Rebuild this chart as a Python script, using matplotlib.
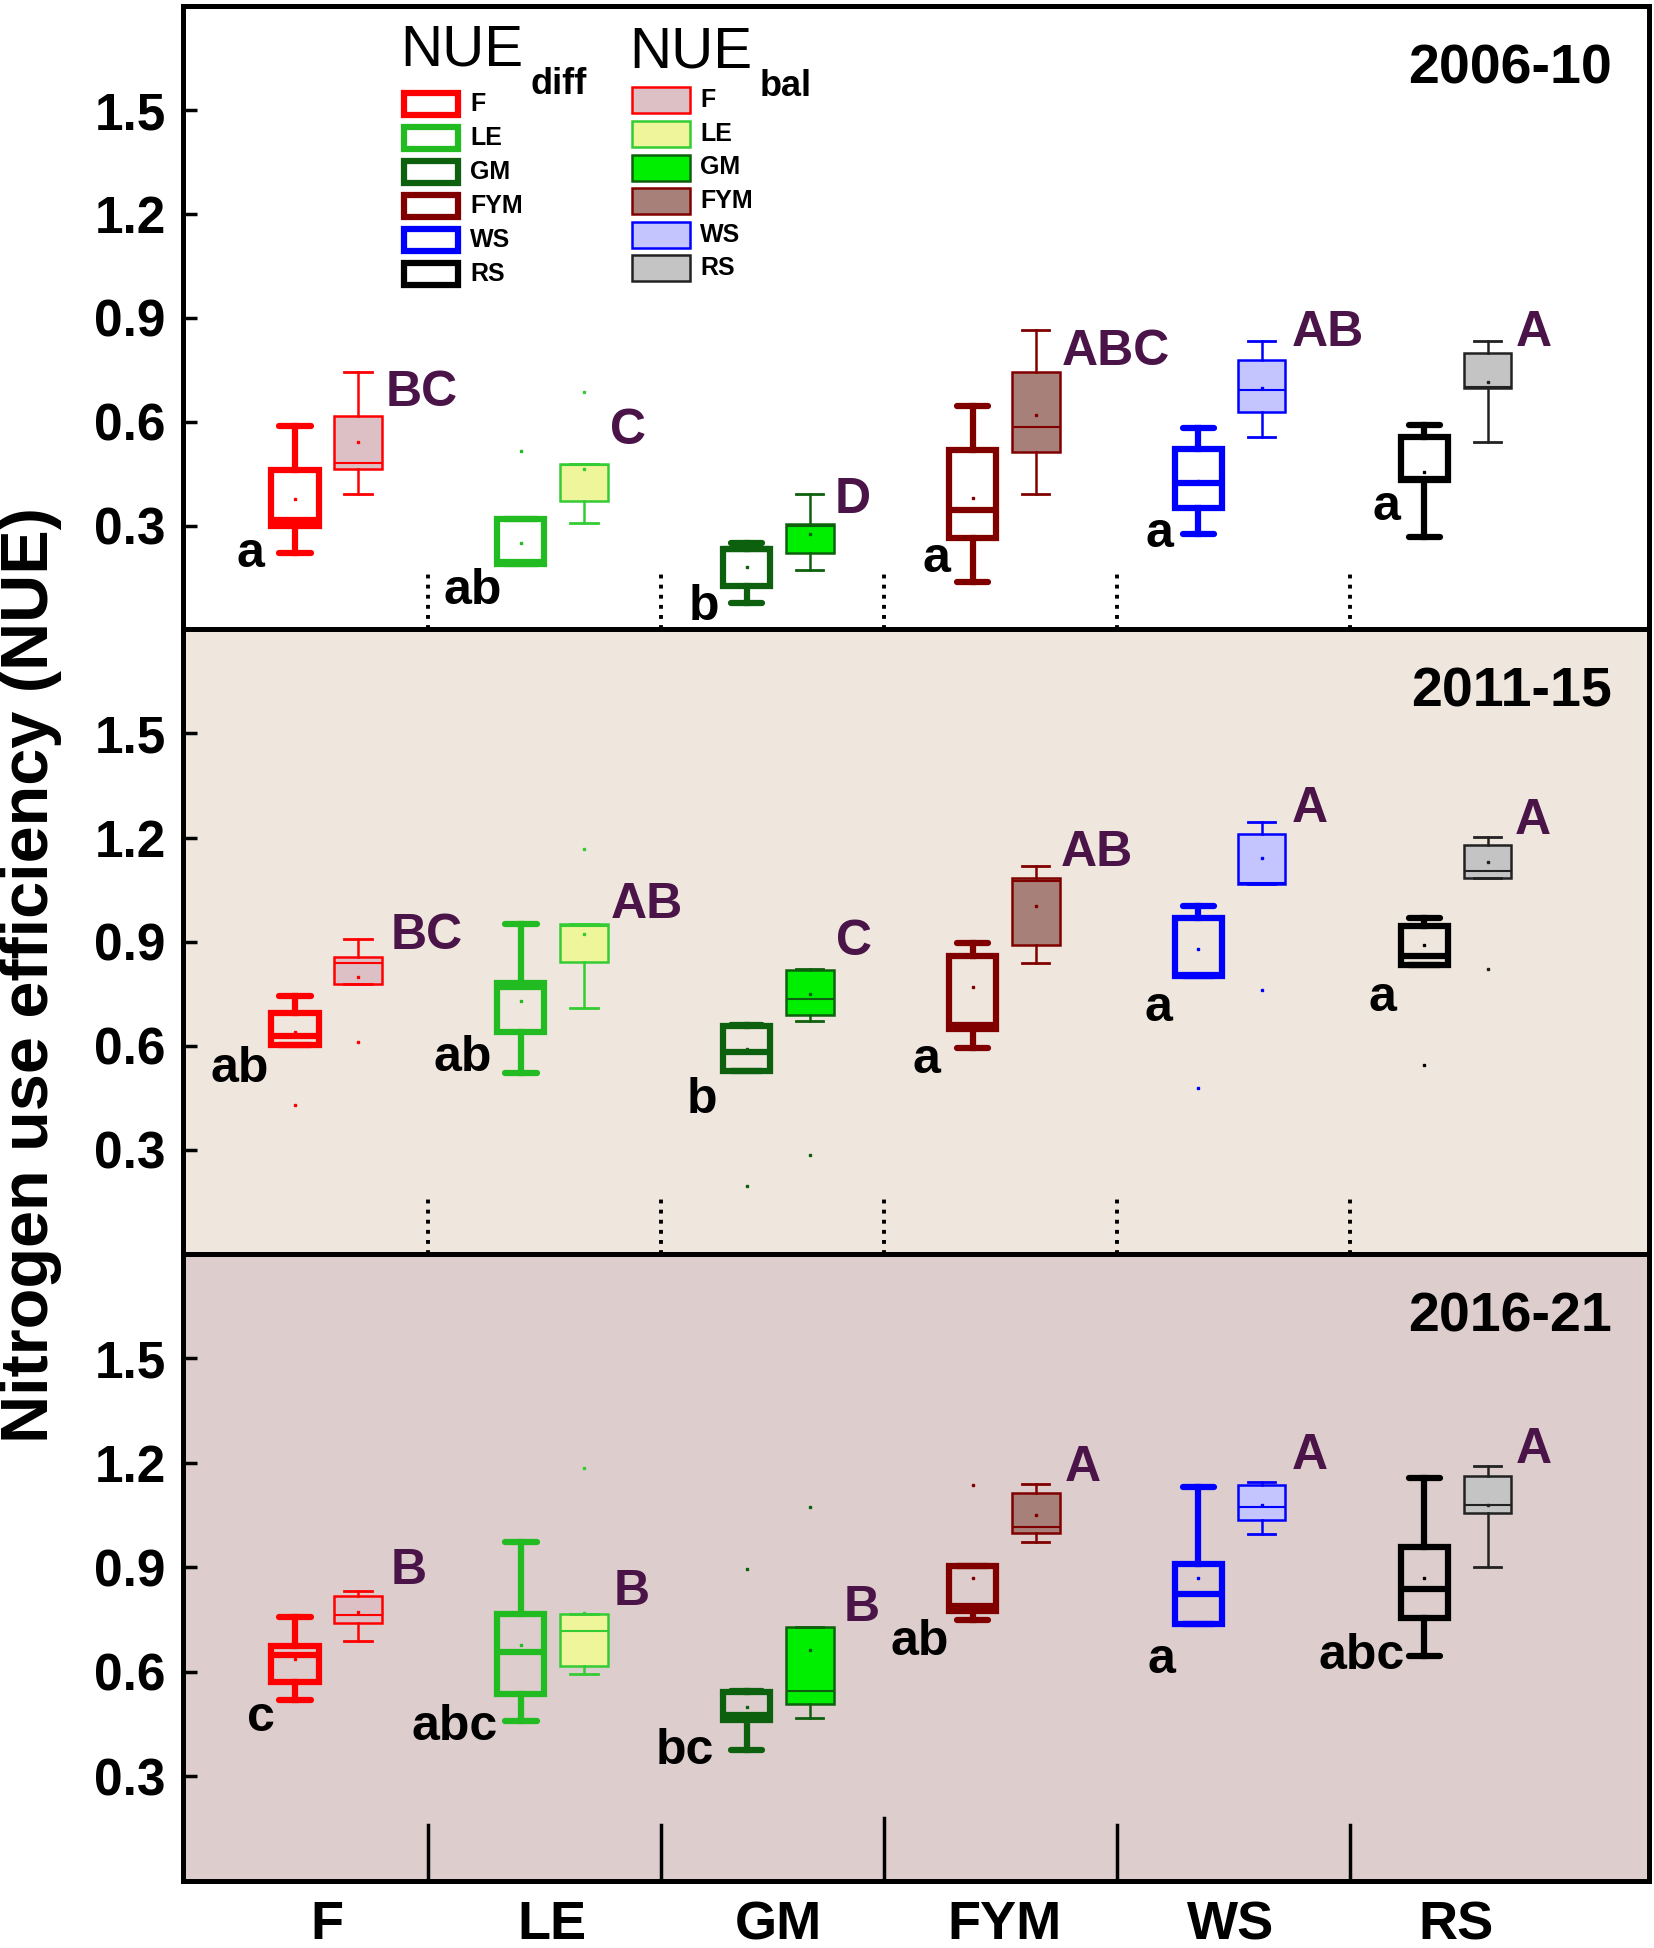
import matplotlib
matplotlib.use("Agg")
import matplotlib.pyplot as plt
from matplotlib.patches import Rectangle

plt.rcParams['font.family'] = ['Liberation Sans', 'DejaVu Sans']

# ---------------- data ----------------
categories = ['F', 'LE', 'GM', 'FYM', 'WS', 'RS']
periods = ['2006-10', '2011-15', '2016-21']

# each: [whislo, q1, med, q3, whishi, mean]
diff_stats = [
    [[0.222, 0.298, 0.315, 0.460, 0.588, 0.377],
     [0.189, 0.189, 0.195, 0.319, 0.319, 0.250],
     [0.077, 0.126, 0.232, 0.232, 0.250, 0.179],
     [0.137, 0.265, 0.344, 0.517, 0.645, 0.379],
     [0.275, 0.352, 0.423, 0.522, 0.582, 0.430],
     [0.267, 0.432, 0.435, 0.557, 0.589, 0.454]],
    [[0.603, 0.603, 0.627, 0.694, 0.742, 0.640],
     [0.521, 0.641, 0.770, 0.780, 0.950, 0.730],
     [0.526, 0.526, 0.581, 0.656, 0.660, 0.590],
     [0.593, 0.648, 0.660, 0.858, 0.896, 0.768],
     [0.800, 0.800, 0.805, 0.968, 1.002, 0.880],
     [0.834, 0.834, 0.858, 0.944, 0.968, 0.890]],
    [[0.520, 0.571, 0.649, 0.673, 0.757, 0.636],
     [0.459, 0.537, 0.657, 0.765, 0.974, 0.678],
     [0.377, 0.461, 0.475, 0.542, 0.545, 0.500],
     [0.749, 0.776, 0.790, 0.905, 0.905, 0.871],
     [0.738, 0.738, 0.824, 0.910, 1.132, 0.871],
     [0.647, 0.754, 0.838, 0.959, 1.158, 0.871]],
]
diff_fliers = [
    [[], [0.516], [], [], [], []],
    [[0.430], [], [0.195], [], [0.478], [0.545]],
    [[], [], [0.895], [1.137], [], []],
]
bal_stats = [
    [[0.392, 0.462, 0.482, 0.616, 0.743, 0.540],
     [0.308, 0.370, 0.475, 0.479, 0.479, 0.463],
     [0.172, 0.220, 0.298, 0.305, 0.390, 0.276],
     [0.392, 0.512, 0.586, 0.743, 0.866, 0.620],
     [0.555, 0.628, 0.692, 0.777, 0.834, 0.698],
     [0.541, 0.698, 0.700, 0.799, 0.832, 0.714]],
    [[0.777, 0.777, 0.838, 0.857, 0.907, 0.797],
     [0.710, 0.840, 0.945, 0.951, 0.951, 0.922],
     [0.670, 0.689, 0.735, 0.817, 0.820, 0.750],
     [0.838, 0.891, 1.075, 1.084, 1.119, 1.002],
     [1.065, 1.065, 1.070, 1.211, 1.245, 1.140],
     [1.084, 1.084, 1.103, 1.180, 1.202, 1.130]],
    [[0.688, 0.740, 0.762, 0.817, 0.833, 0.771],
     [0.595, 0.616, 0.717, 0.766, 0.766, 0.770],
     [0.469, 0.509, 0.545, 0.730, 0.730, 0.664],
     [0.972, 1.000, 1.015, 1.115, 1.140, 1.050],
     [0.995, 1.035, 1.072, 1.137, 1.146, 1.078],
     [0.900, 1.057, 1.078, 1.162, 1.190, 1.078]],
]
bal_fliers = [
    [[], [0.685], [], [], [], []],
    [[0.610], [1.167], [0.286], [], [0.762], [0.821]],
    [[], [1.186], [1.072], [], [], []],
]

diff_letters = [['a', 'ab', 'b', 'a', 'a', 'a'],
                ['ab', 'ab', 'b', 'a', 'a', 'a'],
                ['c', 'abc', 'bc', 'ab', 'a', 'abc']]
bal_letters = [['BC', 'C', 'D', 'ABC', 'AB', 'A'],
               ['BC', 'AB', 'C', 'AB', 'A', 'A'],
               ['B', 'B', 'B', 'A', 'A', 'A']]

# letter anchor positions (data coords)
diff_letter_xy = [
    [(-0.335, 0.218), (0.648, 0.110), (1.67, 0.064), (2.70, 0.203), (3.687, 0.275), (4.69, 0.354)],
    [(-0.385, 0.533), (0.604, 0.565), (1.66, 0.443), (2.654, 0.558), (3.681, 0.708), (4.676, 0.737)],
    [(-0.291, 0.468), (0.566, 0.443), (1.588, 0.372), (2.626, 0.687), (3.698, 0.633), (4.582, 0.647)],
]
bal_letter_xy = [
    [(0.423, 0.683), (1.335, 0.572), (2.33, 0.375), (3.495, 0.800), (4.434, 0.855), (5.346, 0.855)],
    [(0.446, 0.916), (1.418, 1.006), (2.335, 0.898), (3.41, 1.156), (4.352, 1.281), (5.34, 1.249)],
    [(0.363, 0.891), (1.352, 0.830), (2.368, 0.784), (3.346, 1.185), (4.352, 1.220), (5.346, 1.238)],
]

yticks = [0.3, 0.6, 0.9, 1.2, 1.5]

# ---------------- styles ----------------
diff_colors = ['#ff0000', '#22bb22', '#0d600d', '#800000', '#0000ff', '#000000']
bal_face = ['#dcc0c6', '#eef59a', '#00ee00', '#a8807a', '#c4c4ff', '#c4c4c4']
bal_edge = ['#ff0000', '#33cc33', '#0d600d', '#800000', '#0000ff', '#222222']
panel_bg = ['#ffffff', '#efe6dd', '#ddcdcc']
letter_purple = '#4a1449'

W, H = 1654, 1948
fig = plt.figure(figsize=(W / 100, H / 100), dpi=100)

def fx(x):
    return x / W

def fy(y):
    return 1 - y / H

left_px, right_px = 182.5, 1648.5
panel_px = [(6.2, 629.4), (629.4, 1253.9), (1253.9, 1880.9)]

off = 0.14
sep_x = [0.45, 1.48, 2.47, 3.5, 4.53]
DLW = 4.5

axes = []
for p in range(3):
    t, b = panel_px[p]
    ax = fig.add_axes([fx(left_px), fy(b), (right_px - left_px) / W, (b - t) / H])
    axes.append(ax)
    ax.set_facecolor(panel_bg[p])
    ax.set_xlim(-0.637, 5.852)
    ax.set_ylim(0, 1.8)
    for s in ax.spines.values():
        s.set_linewidth(3.6)
    ax.set_yticks(yticks)
    ax.set_yticklabels([f'{v:.1f}' for v in yticks], fontsize=37, fontweight='bold')
    ax.tick_params(axis='y', direction='in', length=10, width=2.5, pad=12)
    if p < 2:
        ax.set_xticks([])
    else:
        ax.set_xticks(range(len(categories)))
        ax.set_xticklabels(categories, fontsize=39, fontweight='bold')
        ax.tick_params(axis='x', length=0, pad=14)

    for k in range(len(categories)):
        ds = diff_stats[p][k]
        st = dict(whislo=ds[0], q1=ds[1], med=ds[2], q3=ds[3], whishi=ds[4],
                  mean=ds[5], fliers=diff_fliers[p][k])
        c = diff_colors[k]
        ax.bxp([st], positions=[k - off], widths=0.21, capwidths=0.14,
               patch_artist=True, showmeans=True, manage_ticks=False,
               boxprops=dict(facecolor='none', edgecolor=c, linewidth=DLW),
               whiskerprops=dict(color=c, linewidth=DLW),
               capprops=dict(color=c, linewidth=DLW, solid_capstyle='round'),
               medianprops=dict(color=c, linewidth=DLW),
               meanprops=dict(marker='s', markersize=2.0, markerfacecolor=c,
                              markeredgecolor=c),
               flierprops=dict(marker='s', markersize=1.8, markerfacecolor=c,
                               markeredgecolor=c))
        bs = bal_stats[p][k]
        st = dict(whislo=bs[0], q1=bs[1], med=bs[2], q3=bs[3], whishi=bs[4],
                  mean=bs[5], fliers=bal_fliers[p][k])
        e = bal_edge[k]
        ax.bxp([st], positions=[k + off], widths=0.21, capwidths=0.12,
               patch_artist=True, showmeans=True, manage_ticks=False,
               boxprops=dict(facecolor=bal_face[k], edgecolor=e, linewidth=1.8),
               whiskerprops=dict(color=e, linewidth=1.8),
               capprops=dict(color=e, linewidth=2.0),
               medianprops=dict(color=e, linewidth=1.5),
               meanprops=dict(marker='s', markersize=2.0, markerfacecolor=e,
                              markeredgecolor=e),
               flierprops=dict(marker='s', markersize=1.8, markerfacecolor=e,
                               markeredgecolor=e))
        x, y = diff_letter_xy[p][k]
        ax.text(x, y, diff_letters[p][k], fontsize=36, fontweight='bold',
                color='black', ha='center', va='center')
        x, y = bal_letter_xy[p][k]
        ax.text(x, y, bal_letters[p][k], fontsize=36, fontweight='bold',
                color=letter_purple, ha='center', va='center')

    for i, sx in enumerate(sep_x):
        if p < 2:
            ax.plot([sx, sx], [0, 0.17], color='black', linewidth=2.8,
                    linestyle=(0, (1, 1.6)), solid_capstyle='round')
        else:
            h = 0.18 if i == 2 else 0.16
            ax.plot([sx, sx], [0, h], color='black', linewidth=2.5)

    ax.text(0.975, 0.94, periods[p], transform=ax.transAxes, fontsize=40,
            fontweight='bold', ha='right', va='top')

fig.text(fx(31), 0.4995, 'Nitrogen use efficiency (NUE)', rotation=90,
         fontsize=48, fontweight='bold', ha='center', va='center')

# ---------------- legend ----------------
fig.text(fx(400), fy(50), 'NUE', fontsize=42, ha='left', va='center')
fig.text(fx(531), fy(84), 'diff', fontsize=26, fontweight='bold', ha='left', va='center')
fig.text(fx(629), fy(52), 'NUE', fontsize=42, ha='left', va='center')
fig.text(fx(760), fy(87), 'bal', fontsize=26, fontweight='bold', ha='left', va='center')

for k, cat in enumerate(categories):
    cy = 103.6 + 34.0 * k
    fig.add_artist(Rectangle((fx(404), fy(cy + 11)), 54 / W, 22 / H,
                             transform=fig.transFigure, facecolor='white',
                             edgecolor=diff_colors[k], linewidth=4.5))
    fig.text(fx(470), fy(cy), cat, fontsize=18, fontweight='bold',
             ha='left', va='center')
    cy2 = 100.3 + 33.6 * k
    fig.add_artist(Rectangle((fx(632), fy(cy2 + 13)), 58 / W, 26 / H,
                             transform=fig.transFigure, facecolor=bal_face[k],
                             edgecolor=bal_edge[k], linewidth=1.8))
    fig.text(fx(700), fy(cy2), cat, fontsize=18, fontweight='bold',
             ha='left', va='center')

fig.savefig('out.png', dpi=100)
